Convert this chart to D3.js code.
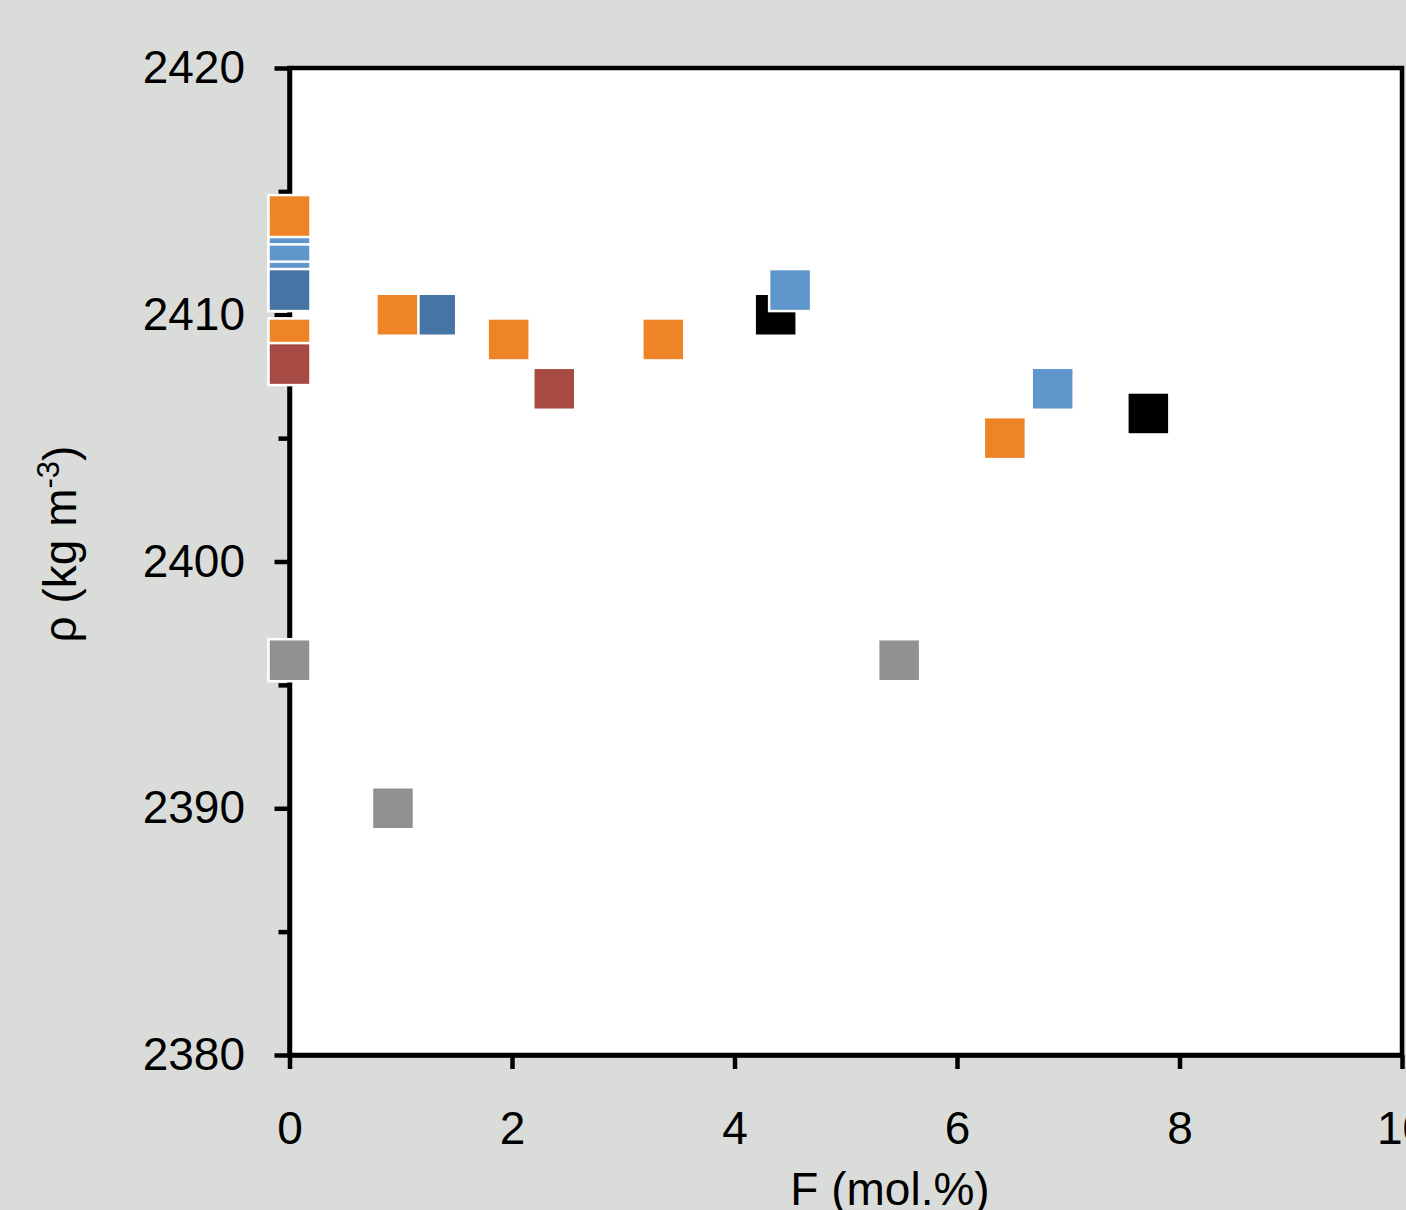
<!DOCTYPE html>
<html>
<head>
<meta charset="utf-8">
<script src="https://cdn.jsdelivr.net/npm/d3@7"></script>
<style>
  html, body { margin: 0; padding: 0; background: #dadcd9; }
  svg { display: block; }
</style>
</head>
<body>
<svg id="chart"></svg>
<script>
const width = 1406;
const height = 1210;

// ---- data ----
const xTicks = [0, 2, 4, 6, 8, 10];
const yTicks = [2380, 2390, 2400, 2410, 2420];
const yMinorTicks = [2385, 2395, 2405, 2415];

const blackX = [4.37, 7.72];
const blackY = [2410, 2406];

const lightBlueX = [0, 0, 0, 4.5, 6.86];
const lightBlueY = [2413, 2412, 2411.3, 2411, 2407];

const darkBlueX = [0, 1.31];
const darkBlueY = [2411, 2410];

const orangeX = [0, 0, 0.97, 1.97, 3.36, 6.43];
const orangeY = [2414, 2409, 2410, 2409, 2409, 2405];

const redX = [0, 2.38];
const redY = [2408, 2407];

const greyX = [0, 0.93, 5.48];
const greyY = [2396, 2390, 2396];

// draw order matters: later series sit on top
const series = [
  { name: "black", color: "#000000", xs: blackX, ys: blackY },
  { name: "lightBlue", color: "#5f97cd", xs: lightBlueX, ys: lightBlueY },
  { name: "darkBlue", color: "#4674a5", xs: darkBlueX, ys: darkBlueY },
  { name: "orange", color: "#ed8526", xs: orangeX, ys: orangeY },
  { name: "red", color: "#a84a44", xs: redX, ys: redY },
  { name: "grey", color: "#919191", xs: greyX, ys: greyY }
];

/* -------------------------
   LAYOUT
--------------------------*/
const plotL = 289.5, plotR = 1402, plotT = 68, plotB = 1055;
const FONT = "'Liberation Sans', Arial, sans-serif";

const x = d3.scaleLinear().domain([0, 10]).range([plotL, plotR]);
const y = d3.scaleLinear().domain([2380, 2420]).range([plotB, plotT]);

const svg = d3.select("#chart")
  .attr("width", width)
  .attr("height", height);

svg.append("rect")
  .attr("width", width)
  .attr("height", height)
  .attr("fill", "#dadcd9");

// plot area
svg.append("rect")
  .attr("x", plotL)
  .attr("y", plotT)
  .attr("width", plotR - plotL)
  .attr("height", plotB - plotT)
  .attr("fill", "#ffffff")
  .attr("stroke", "#000")
  .attr("stroke-width", 4.5);

/* -------------------------
   AXES
--------------------------*/
svg.append("g")
  .attr("transform", `translate(${plotL},0)`)
  .call(d3.axisLeft(y).tickValues(yTicks).tickSize(15).tickSizeOuter(0).tickPadding(29.5).tickFormat(d3.format("d")));

svg.append("g")
  .attr("transform", `translate(${plotL},0)`)
  .call(d3.axisLeft(y).tickValues(yMinorTicks).tickSize(11).tickSizeOuter(0).tickFormat(""))
  .call(g => g.select(".domain").remove());

svg.append("g")
  .attr("transform", `translate(0,${plotB})`)
  .call(d3.axisBottom(x).tickValues(xTicks).tickSize(14).tickSizeOuter(0).tickPadding(42));

svg.selectAll(".tick line, .domain")
  .attr("stroke", "#000")
  .attr("stroke-width", 4.5);

svg.selectAll(".tick text")
  .attr("fill", "#000")
  .style("font-family", FONT)
  .style("font-size", "46px");

/* -------------------------
   MARKERS
--------------------------*/
const S = 42;
series.forEach(s => {
  const pts = s.xs.map((v, i) => ({ x: v, y: s.ys[i] }));
  svg.append("g")
    .selectAll("rect")
    .data(pts)
    .enter()
    .append("rect")
    .attr("x", d => x(d.x) - S / 2)
    .attr("y", d => y(d.y) - S / 2)
    .attr("width", S)
    .attr("height", S)
    .attr("fill", s.color)
    .attr("stroke", "#fff")
    .attr("stroke-width", 2.5);
});

/* -------------------------
   TITLES
--------------------------*/
svg.append("text")
  .attr("x", 890)
  .attr("y", 1205)
  .attr("text-anchor", "middle")
  .style("font-family", FONT)
  .style("font-size", "46px")
  .attr("fill", "#000")
  .text("F (mol.%)");

const yt = svg.append("text")
  .attr("transform", "translate(76,544) rotate(-90)")
  .attr("text-anchor", "middle")
  .style("font-family", FONT)
  .style("font-size", "46px")
  .attr("fill", "#000");
yt.append("tspan").text("ρ (kg m");
yt.append("tspan").attr("dy", -17).style("font-size", "31px").text("-3");
yt.append("tspan").attr("dy", 17).text(")");
</script>
</body>
</html>
